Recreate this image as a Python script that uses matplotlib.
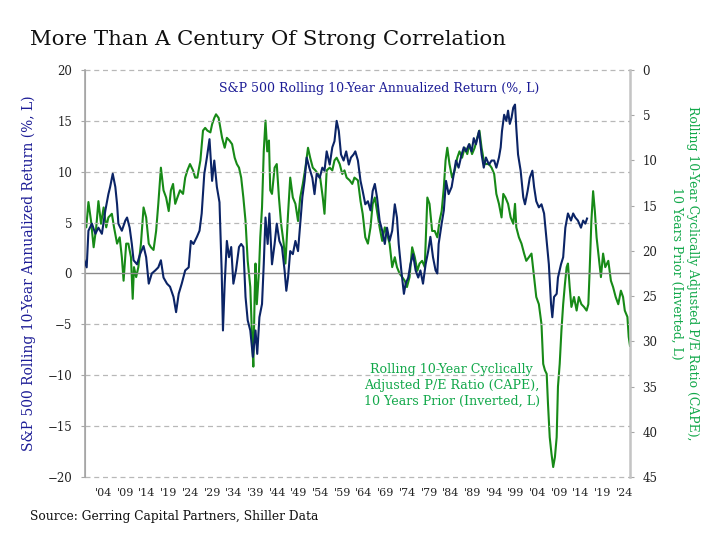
import matplotlib
matplotlib.use("Agg")
import matplotlib.pyplot as plt

# S&P 500 rolling 10-year annualized return (%)
ret_year = [1899.4, 1900.1, 1900.5, 1901.3, 1902.1, 1902.8, 1903.6, 1904.4, 1905.1, 1905.5,
            1906.1, 1906.7, 1907.1, 1907.4, 1908.2, 1909.0, 1909.4, 1910.0, 1910.5, 1910.9,
            1911.7, 1912.4, 1913.2, 1913.8, 1914.4, 1915.1, 1915.9, 1916.6, 1917.2, 1917.8,
            1918.6, 1919.3, 1920.1, 1920.7, 1921.3, 1922.0, 1922.8, 1923.6, 1924.1, 1924.7,
            1925.5, 1926.1, 1926.6, 1927.2, 1927.8, 1928.4, 1929.0, 1929.5, 1930.1, 1930.7,
            1931.2, 1931.5, 1931.9, 1932.4, 1932.9, 1933.4, 1933.9, 1934.5, 1935.2, 1935.7,
            1936.2, 1936.7, 1937.2, 1937.8, 1938.4, 1939.0, 1939.4, 1939.9, 1940.5, 1940.9,
            1941.3, 1941.8, 1942.2, 1942.8, 1943.4, 1943.9, 1944.5, 1945.1, 1945.7, 1946.1,
            1946.5, 1947.0, 1947.6, 1948.2, 1948.8, 1949.3, 1949.8, 1950.3, 1950.8, 1951.4,
            1952.1, 1952.6, 1953.1, 1953.8, 1954.4, 1954.9, 1955.4, 1956.1, 1956.7, 1957.2,
            1957.7, 1958.2, 1958.7, 1959.3, 1959.9, 1960.5, 1961.0, 1961.6, 1962.0, 1962.6,
            1963.2, 1963.7, 1964.3, 1964.9, 1965.5, 1966.0, 1966.5, 1967.0, 1967.6, 1968.2,
            1968.8, 1969.3, 1969.9, 1970.5, 1971.1, 1971.6, 1972.0, 1972.6, 1973.2, 1973.6,
            1974.2, 1974.7, 1975.3, 1975.9, 1976.5, 1977.0, 1977.6, 1978.2, 1978.8, 1979.3,
            1979.9, 1980.5, 1980.9, 1981.2, 1981.9, 1982.4, 1982.9, 1983.5, 1984.2, 1984.7,
            1985.2, 1985.8, 1986.5, 1987.0, 1987.5, 1988.2, 1988.8, 1989.3, 1989.8, 1990.5,
            1991.1, 1991.6, 1992.1, 1992.8, 1993.4, 1994.0, 1994.5, 1995.1, 1995.5, 1995.8,
            1996.3, 1996.8, 1997.2, 1997.6, 1998.0, 1998.4, 1998.8, 1999.1, 1999.5, 2000.1,
            2000.7, 2001.1, 2001.7, 2002.2, 2002.8, 2003.2, 2003.7, 2004.3, 2004.9, 2005.5,
            2006.0, 2006.6, 2007.1, 2007.4, 2007.8, 2008.4, 2008.7, 2009.4, 2009.9, 2010.4,
            2011.0, 2011.7, 2012.2, 2012.7, 2013.3, 2014.0, 2014.5, 2015.0, 2015.4]
ret_val = [1.5, 0.6, 4.2, 4.9, 3.9, 4.5, 3.9, 6.2, 7.8, 8.5,
           9.8, 8.5, 6.8, 4.9, 4.2, 5.2, 5.5, 4.5, 2.9, 1.3,
           0.9, 1.9, 2.7, 1.6, -1.0, 0.0, 0.3, 0.6, 1.3, -0.4,
           -1.0, -1.3, -2.3, -3.8, -2.0, -1.0, 0.3, 0.6, 3.2, 2.9,
           3.6, 4.2, 5.9, 9.8, 11.4, 13.2, 9.1, 11.1, 8.5, 7.0,
           0.3, -5.6, -1.0, 3.2, 1.6, 2.6, -1.0, 0.3, 2.6, 2.9,
           2.6, -2.3, -4.6, -5.6, -8.2, -5.6, -7.9, -4.3, -3.0, 0.9,
           5.5, 2.9, 5.9, 0.9, 2.9, 4.9, 3.2, 2.6, 0.3, -1.7,
           -0.4, 2.2, 1.9, 3.2, 2.2, 4.9, 7.5, 9.1, 11.4, 10.4,
           9.4, 7.8, 9.8, 9.4, 10.4, 10.1, 12.0, 10.7, 12.4, 13.0,
           15.0, 14.0, 11.7, 11.1, 12.0, 10.7, 11.4, 11.7, 12.0, 11.1,
           9.1, 8.1, 6.8, 7.1, 6.2, 8.1, 8.8, 7.5, 5.2, 4.2,
           2.9, 4.5, 3.2, 4.2, 6.8, 5.5, 2.9, 0.3, -2.0, -1.0,
           -0.4, 0.9, 1.9, 0.3, -0.4, 0.3, -1.0, 0.9, 2.2, 3.6,
           1.6, 0.3, 0.0, 2.9, 4.9, 6.2, 9.1, 7.8, 8.5, 9.8,
           11.1, 10.4, 11.7, 12.4, 12.0, 12.7, 12.0, 13.3, 12.7, 14.0,
           11.7, 10.4, 11.4, 10.7, 11.1, 11.1, 10.4, 11.4, 12.4, 14.0,
           15.6, 15.0, 16.0, 14.7, 15.3, 16.3, 16.6, 14.3, 11.7, 10.1,
           7.5, 6.8, 8.1, 9.4, 10.1, 8.5, 7.1, 6.5, 6.8, 5.9,
           3.6, 0.9, -3.0, -4.3, -2.3, -2.0, -0.4, 0.9, 1.6, 4.5,
           5.9, 5.2, 5.9, 5.5, 5.2, 4.5, 5.2, 4.9, 5.4]

# CAPE ratio 10 years prior (plotted inverted on the right axis)
cape_year = [1899.4, 1900.0, 1900.5, 1901.1, 1901.7, 1902.3, 1902.8, 1903.4, 1904.0, 1904.6,
             1905.1, 1905.9, 1906.4, 1907.1, 1907.7, 1908.2, 1908.6, 1909.2, 1909.7, 1910.3,
             1910.7, 1911.0, 1911.5, 1912.0, 1912.6, 1913.2, 1913.8, 1914.4, 1914.9, 1915.5,
             1916.1, 1916.6, 1917.2, 1917.8, 1918.4, 1919.0, 1919.5, 1920.0, 1920.5, 1921.0,
             1921.6, 1922.3, 1922.8, 1923.3, 1923.9, 1924.6, 1925.1, 1925.6, 1926.3, 1926.9,
             1927.4, 1927.9, 1928.6, 1929.0, 1929.5, 1929.9, 1930.5, 1931.3, 1931.9, 1932.4,
             1933.0, 1933.6, 1934.2, 1934.7, 1935.2, 1935.7, 1936.2, 1936.7, 1937.2, 1937.8,
             1938.2, 1938.5, 1938.8, 1939.0, 1939.3, 1939.8, 1940.1, 1940.5, 1940.9, 1941.3,
             1941.7, 1942.1, 1942.4, 1942.8, 1943.4, 1943.9, 1944.4, 1944.9, 1945.5, 1945.9,
             1946.5, 1947.0, 1947.6, 1948.2, 1948.8, 1949.3, 1949.9, 1950.5, 1951.1, 1951.6,
             1952.2, 1952.8, 1953.4, 1953.9, 1954.5, 1954.9, 1955.4, 1956.1, 1956.7, 1957.2,
             1957.7, 1958.4, 1959.0, 1959.5, 1960.0, 1960.7, 1961.3, 1961.8, 1962.6, 1963.2,
             1963.7, 1964.3, 1964.9, 1965.5, 1966.0, 1966.5, 1967.0, 1967.6, 1968.2, 1968.8,
             1969.3, 1969.9, 1970.5, 1971.1, 1971.6, 1972.2, 1972.8, 1973.4, 1973.9, 1974.5,
             1975.1, 1975.7, 1976.3, 1976.8, 1977.4, 1978.0, 1978.6, 1979.1, 1979.7, 1980.3,
             1980.9, 1981.4, 1981.9, 1982.4, 1982.8, 1983.2, 1983.7, 1984.3, 1984.9, 1985.5,
             1986.0, 1986.6, 1987.2, 1987.8, 1988.3, 1988.9, 1989.5, 1990.1, 1990.6, 1991.1,
             1991.6, 1992.1, 1992.8, 1993.4, 1994.0, 1994.5, 1995.1, 1995.7, 1996.1, 1996.6,
             1997.2, 1997.8, 1998.4, 1998.8, 1999.1, 1999.7, 2000.3, 2000.9, 2001.4, 2002.0,
             2002.6, 2003.2, 2003.7, 2004.3, 2004.9, 2005.3, 2005.7, 2006.1, 2006.4, 2006.8,
             2007.2, 2007.6, 2008.0, 2008.4, 2008.7, 2009.1, 2009.5, 2009.9, 2010.3, 2010.7,
             2011.0, 2011.4, 2011.8, 2012.4, 2013.0, 2013.5, 2014.1, 2014.7, 2015.3, 2015.7,
             2016.0, 2016.4, 2016.8, 2017.2, 2017.6, 2018.0, 2018.6, 2019.1, 2019.6, 2020.3,
             2020.9, 2021.4, 2022.0, 2022.6, 2023.2, 2023.7, 2024.1, 2024.7, 2025.0, 2025.3]
cape_val = [17.2, 17.4, 14.6, 16.7, 19.6, 17.4, 14.5, 17.0, 15.2, 17.4,
            16.3, 15.9, 17.4, 19.2, 18.5, 20.7, 23.3, 19.2, 19.2, 20.7,
            25.3, 21.8, 22.9, 21.8, 19.2, 15.2, 16.3, 19.2, 19.6, 19.9,
            17.8, 14.8, 10.8, 13.3, 14.1, 15.6, 13.3, 12.6, 14.8, 14.1,
            13.3, 13.7, 11.9, 11.1, 10.4, 11.1, 11.9, 11.9, 10.0, 6.7,
            6.4, 6.7, 6.9, 6.0, 5.3, 4.9, 5.3, 7.5, 8.6, 7.5,
            7.8, 8.2, 9.7, 10.4, 10.8, 11.9, 14.1, 16.7, 21.1, 24.0,
            29.5, 32.8, 25.0, 21.4, 25.9, 22.2, 18.5, 15.2, 9.0, 5.6,
            9.0, 7.8, 13.3, 13.7, 10.8, 10.4, 14.1, 17.0, 19.2, 21.4,
            15.9, 11.9, 14.1, 14.8, 16.7, 14.1, 12.6, 10.8, 8.6, 9.7,
            10.8, 11.1, 11.5, 11.9, 14.1, 15.9, 11.1, 10.8, 11.1, 10.0,
            9.7, 10.4, 11.5, 11.1, 11.9, 12.2, 12.6, 11.9, 12.2, 14.5,
            15.9, 18.5, 19.2, 17.4, 14.8, 14.1, 15.6, 17.4, 18.9, 17.4,
            18.1, 19.2, 21.8, 20.7, 21.8, 22.5, 22.9, 23.3, 24.0, 22.9,
            19.6, 20.7, 22.2, 21.4, 21.1, 21.8, 14.1, 14.8, 17.8, 17.8,
            18.5, 16.7, 15.6, 13.0, 10.0, 8.6, 10.4, 11.9, 11.1, 9.7,
            9.0, 9.7, 8.6, 9.3, 8.2, 9.3, 8.6, 7.5, 6.7, 8.6,
            10.0, 10.4, 10.4, 10.8, 11.5, 13.7, 14.8, 16.3, 13.7, 14.1,
            14.8, 16.3, 17.0, 14.8, 17.4, 18.5, 19.2, 20.3, 21.1, 20.7,
            20.3, 22.9, 25.1, 25.9, 28.1, 32.5, 33.2, 33.6, 36.9, 40.6,
            42.4, 43.9, 42.8, 40.6, 35.0, 32.5, 28.8, 25.9, 23.7, 21.8,
            21.4, 24.0, 26.2, 25.1, 26.6, 25.1, 25.9, 26.2, 26.6, 25.9,
            22.2, 16.7, 13.4, 15.6, 18.5, 20.3, 22.9, 20.3, 21.8, 21.1,
            23.3, 24.0, 25.1, 25.9, 24.4, 25.1, 26.6, 27.3, 29.5, 30.5]

tick_years = list(range(1904, 2025, 5))
tick_labels = ["'%02d" % (y % 100) for y in tick_years]

plt.rcParams['font.family'] = ['DejaVu Serif']

navy = '#0b2466'
green = '#178a17'
navy_txt = '#1c1c96'
green_txt = '#12a84a'
grey = '#a6a6a6'

fig = plt.figure(figsize=(7.2, 5.4), dpi=100)
ax = fig.add_axes([0.1174, 0.1167, 0.7576, 0.7537])
ax2 = ax.twinx()

ax.set_xlim(1899.6, 2025.3)
ax.set_ylim(-20, 20)
ax2.set_ylim(45, 0)

# grid
for v in [-20, -15, -10, -5, 5, 10, 15, 20]:
    ax.axhline(v, color='#b8b8b8', lw=0.9, ls=(0, (4, 3)), zorder=0, clip_on=False)
ax.axhline(0, color='#8c8c8c', lw=1.0, zorder=1)

ax2.plot(cape_year, cape_val, color=green, lw=1.5, zorder=2)
ax.plot(ret_year, ret_val, color=navy, lw=1.5, zorder=3)
ax.set_zorder(ax2.get_zorder() + 1)
ax.patch.set_visible(False)

for a in (ax, ax2):
    a.spines['top'].set_visible(False)
    a.spines['bottom'].set_visible(False)
    a.spines['left'].set_color(grey)
    a.spines['right'].set_color('#c4c4c4')
ax2.spines['right'].set_linewidth(1.8)
ax.spines['left'].set_linewidth(1.2)

ax.set_yticks(range(-20, 21, 5))
ax.tick_params(axis='y', length=3, color=grey, labelsize=8.5, labelcolor='#222222', pad=6)
ax2.set_yticks(range(0, 46, 5))
ax2.tick_params(axis='y', length=3, color=grey, labelsize=8.5, labelcolor='#222222', pad=6)
ax.set_xticks(tick_years)
ax.set_xticklabels(tick_labels)
ax.tick_params(axis='x', length=0, labelsize=8, labelcolor='#222222', pad=8)

ax.set_ylabel('S&P 500 Rolling 10-Year Annualized Return (%, L)', color=navy_txt,
              fontsize=10, labelpad=8)
ax2.set_ylabel('Rolling 10-Year Cyclically Adjusted P/E Ratio (CAPE),\n10 Years Prior (Inverted, L)',
               color=green_txt, fontsize=8.9, rotation=270, labelpad=30, linespacing=1.25)

ax.text(0.54, 0.955, 'S&P 500 Rolling 10-Year Annualized Return (%, L)', transform=ax.transAxes,
        ha='center', va='center', color=navy_txt, fontsize=9)
ax.text(0.673, 0.225, 'Rolling 10-Year Cyclically\nAdjusted P/E Ratio (CAPE),\n10 Years Prior (Inverted, L)',
        transform=ax.transAxes, ha='center', va='center', color=green_txt, fontsize=9.1,
        multialignment='center', linespacing=1.25)

fig.text(0.042, 0.926, 'More Than A Century Of Strong Correlation', fontsize=15.3,
         ha='left', va='center', color='#111111')
fig.text(0.042, 0.043, 'Source: Gerring Capital Partners, Shiller Data', fontsize=8.8,
         ha='left', va='center', color='#111111')

fig.savefig('out.png', dpi=100)
